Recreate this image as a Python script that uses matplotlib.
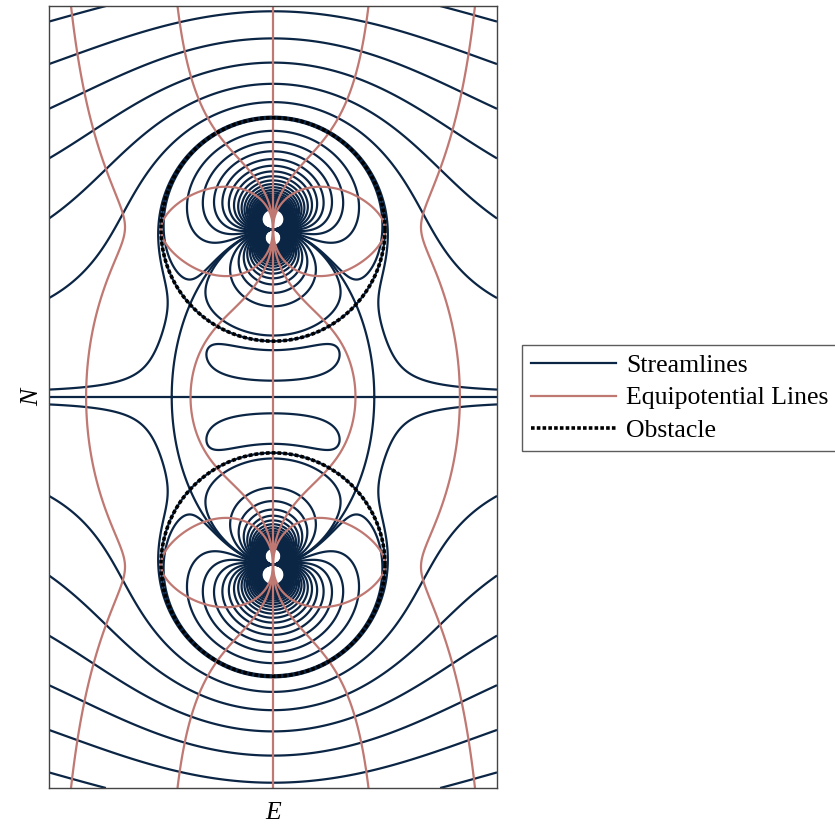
import numpy as np
import matplotlib
matplotlib.use("Agg")
import matplotlib.pyplot as plt
from matplotlib.lines import Line2D

# ---- parameters ----
obstacle_E = [0.0, 0.0]          # obstacle centres (East)
obstacle_N = [1.5, -1.5]         # obstacle centres (North)
obstacle_R = [1.0, 1.0]          # obstacle radii
flow_speed = 1.0
E_limits = [-2.0, 2.0]
N_limits = [-3.5, 3.5]
stream_levels_main = list(np.linspace(-10, 10, 49))
stream_levels_extra = [-0.03, 0.03]
potential_levels = [-2, -1, 0, 1, 2]
legend_labels = ["Streamlines", "Equipotential Lines", "Obstacle"]

stream_color = "#0b2545"
potential_color = "#c07872"

plt.rcParams["font.family"] = ["Liberation Serif", "DejaVu Serif"]

# ---- field: each obstacle's uniform-flow + doublet solution, blended with
#      weights from the signed distances to the obstacle surfaces ----
E = np.linspace(E_limits[0], E_limits[1], 1000)
N = np.linspace(N_limits[0], N_limits[1], 1750)
X, Y = np.meshgrid(E, N)

psi_parts, phi_parts, dist = [], [], []
for xc, yc, R in zip(obstacle_E, obstacle_N, obstacle_R):
    dx, dy = X - xc, Y - yc
    r2 = dx ** 2 + dy ** 2
    psi_parts.append(flow_speed * dy * (1 - R ** 2 / r2))
    phi_parts.append(flow_speed * dx * (1 + R ** 2 / r2))
    dist.append(np.sqrt(r2) - R)
den = dist[0] + dist[1]
w1 = dist[1] / den
w2 = dist[0] / den
psi = np.clip(w1 * psi_parts[0] + w2 * psi_parts[1], -50, 50)
phi = np.clip(w1 * phi_parts[0] + w2 * phi_parts[1], -50, 50)

stream_levels = sorted(set(np.round(stream_levels_main + stream_levels_extra, 6)))

fig = plt.figure(figsize=(8.35, 8.25), dpi=100)
ax = fig.add_axes([49 / 835, 37 / 825, 448 / 835, 782 / 825])
ax.contour(X, Y, psi, levels=stream_levels, colors=stream_color,
           linewidths=1.6, linestyles="solid")
ax.contour(X, Y, phi, levels=potential_levels, colors=potential_color,
           linewidths=1.6, linestyles="solid")
t = np.linspace(0, 2 * np.pi, 400)
for xc, yc, R in zip(obstacle_E, obstacle_N, obstacle_R):
    ax.plot(xc + R * np.cos(t), yc + R * np.sin(t), linestyle=(0, (1, 0.6)),
            color="black", linewidth=2.6)

ax.set_xlim(E_limits)
ax.set_ylim(N_limits)
ax.set_xticks([])
ax.set_yticks([])
for s in ax.spines.values():
    s.set_color("#444444")
    s.set_linewidth(1.0)
ax.set_xlabel("E", fontsize=18.5, fontstyle="italic", labelpad=10)
ax.set_ylabel("N", fontsize=18.5, fontstyle="italic", labelpad=4)

handles = [Line2D([], [], color=stream_color, lw=1.6),
           Line2D([], [], color=potential_color, lw=1.6),
           Line2D([], [], color="black", lw=2.6, linestyle=(0, (1, 0.6)))]
fig.legend(handles, legend_labels, loc="center left",
           bbox_to_anchor=(522 / 835, 1 - 398 / 825), fontsize=18.5,
           frameon=True, fancybox=False, edgecolor="#333333",
           handlelength=3.3, handletextpad=0.4, labelspacing=0.37,
           borderpad=0.35, borderaxespad=0.0)

fig.savefig("out.png", dpi=100)
